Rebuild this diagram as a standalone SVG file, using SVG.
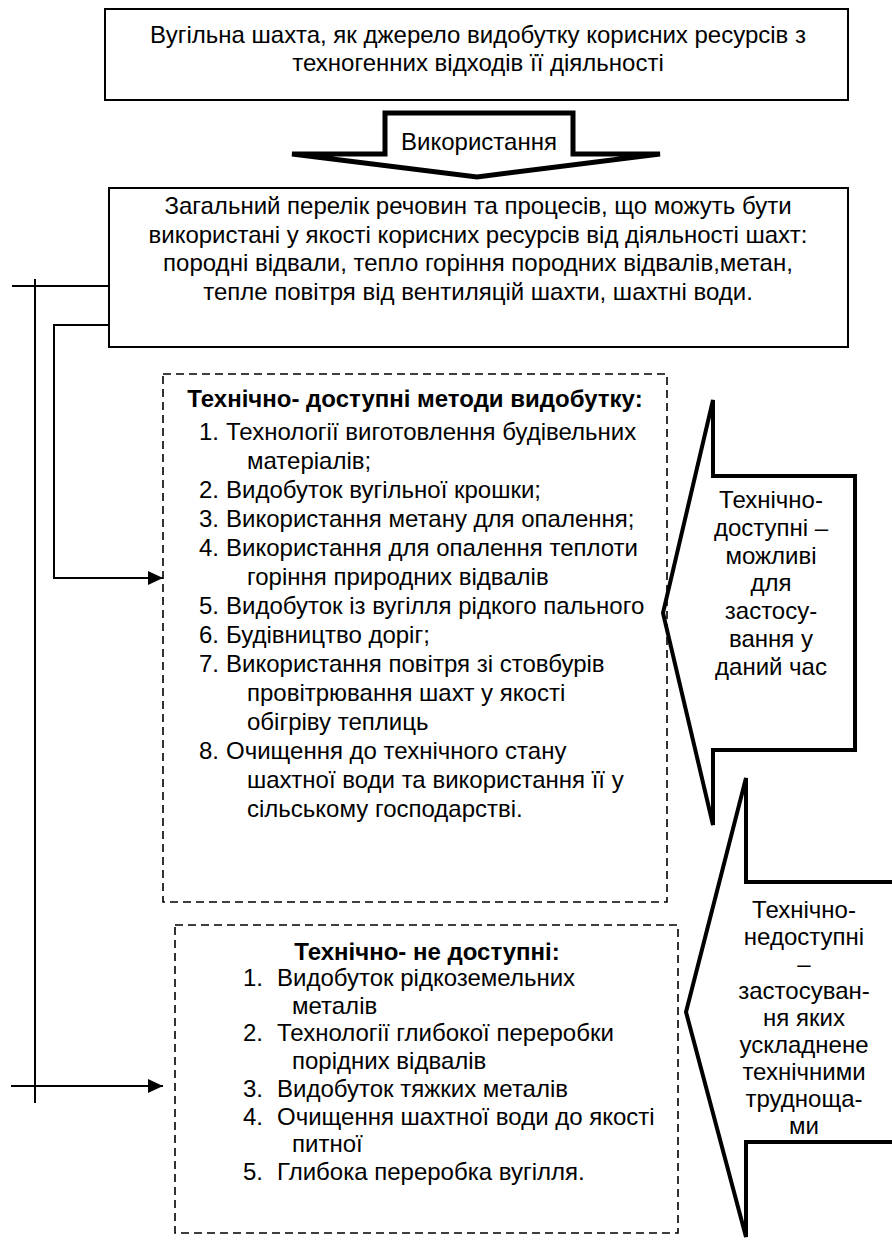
<svg xmlns="http://www.w3.org/2000/svg" width="892" height="1242" viewBox="0 0 892 1242">
<defs>
<style>
text{font-family:"Liberation Sans",Arial,sans-serif;font-size:24px;fill:#000}
.c{text-anchor:middle}
.b{font-weight:bold}
.box{fill:#fff;stroke:#000;stroke-width:2}
.dash{fill:none;stroke:#000;stroke-width:1.6;stroke-dasharray:8 5}
.thick{fill:none;stroke:#000;stroke-width:5;stroke-linejoin:miter}
.call{fill:none;stroke:#000;stroke-width:4;stroke-linejoin:miter}
.ln{fill:none;stroke:#000;stroke-width:2}
</style>
<marker id="ah" markerWidth="16" markerHeight="14" refX="15" refY="7" orient="auto" markerUnits="userSpaceOnUse">
<path d="M0,0 L15,7 L0,14 Z" fill="#000"/>
</marker>
</defs>

<g id="node-source">
<rect class="box" x="105" y="9" width="743" height="91"/>
<text class="c" x="478" y="43">Вугільна шахта, як джерело видобутку корисних ресурсів з</text>
<text class="c" x="478" y="71">техногенних відходів її діяльності</text>
</g>

<g id="node-use-arrow">
<path class="thick" d="M385,113 L573,113 L573,154 L660,154 L477,177 L292,154 L385,154 Z"/>
<text class="c" x="479" y="150">Використання</text>
</g>

<g id="node-list">
<rect class="box" x="109" y="188" width="739" height="159"/>
<text class="c" x="478" y="214">Загальний перелік речовин та процесів, що можуть бути</text>
<text class="c" x="478" y="242.5">використані у якості корисних ресурсів від діяльності шахт:</text>
<text class="c" x="478" y="271">породні відвали, тепло горіння породних відвалів,метан,</text>
<text class="c" x="478" y="299.5">тепле повітря від вентиляцій шахти, шахтні води.</text>
</g>

<g id="connectors">
<line class="ln" x1="12" y1="286" x2="109" y2="286"/>
<line class="ln" x1="35" y1="279" x2="35" y2="1103"/>
<polyline class="ln" points="109,325 54,325 54,578 163,578" marker-end="url(#ah)"/>
<line class="ln" x1="11" y1="1086" x2="163" y2="1086" marker-end="url(#ah)"/>
</g>

<g id="node-available">
<rect class="dash" x="163" y="374" width="504" height="528"/>
<text class="c b" x="415" y="407">Технічно- доступні методи видобутку:</text>
<text x="199" y="440">1.</text><text x="226" y="440">Технології виготовлення будівельних</text>
<text x="247" y="469">матеріалів;</text>
<text x="199" y="498">2.</text><text x="226" y="498">Видобуток вугільної крошки;</text>
<text x="199" y="527">3.</text><text x="226" y="527">Використання метану для опалення;</text>
<text x="199" y="556">4.</text><text x="226" y="556">Використання для опалення теплоти</text>
<text x="247" y="585">горіння природних відвалів</text>
<text x="199" y="614">5.</text><text x="226" y="614">Видобуток із вугілля рідкого пального</text>
<text x="199" y="643">6.</text><text x="226" y="643">Будівництво доріг;</text>
<text x="199" y="672">7.</text><text x="226" y="672">Використання повітря зі стовбурів</text>
<text x="247" y="701">провітрювання шахт у якості</text>
<text x="247" y="730">обігріву теплиць</text>
<text x="199" y="759">8.</text><text x="226" y="759">Очищення до технічного стану</text>
<text x="247" y="788">шахтної води та використання її у</text>
<text x="247" y="817">сільському господарстві.</text>
</g>

<g id="node-unavailable">
<rect class="dash" x="175" y="925" width="503" height="308"/>
<text class="c b" x="427" y="960">Технічно- не доступні:</text>
<text x="243" y="986">1.</text><text x="277" y="986">Видобуток рідкоземельних</text>
<text x="292" y="1013.7">металів</text>
<text x="243" y="1041.4">2.</text><text x="277" y="1041.4">Технології глибокої переробки</text>
<text x="292" y="1069.1">порідних відвалів</text>
<text x="243" y="1096.8">3.</text><text x="277" y="1096.8">Видобуток тяжких металів</text>
<text x="243" y="1124.5">4.</text><text x="277" y="1124.5">Очищення шахтної води до якості</text>
<text x="292" y="1152.2">питної</text>
<text x="243" y="1179.9">5.</text><text x="277" y="1179.9">Глибока переробка вугілля.</text>
</g>

<g id="node-callout-available">
<path class="call" d="M713,400 L713,476 L855,476 L855,750 L713,750 L713,825 L663,613 Z"/>
<text class="c" x="771" y="508">Технічно-</text>
<text class="c" x="771" y="536">доступні –</text>
<text class="c" x="771" y="564">можливі</text>
<text class="c" x="771" y="591">для</text>
<text class="c" x="771" y="619">застосу-</text>
<text class="c" x="771" y="647">вання у</text>
<text class="c" x="771" y="675">даний час</text>
</g>

<g id="node-callout-unavailable">
<path class="call" d="M746,778 L746,882 L900,882 L900,1142 L746,1142 L746,1237 L686,1012 Z"/>
<text class="c" x="804" y="918">Технічно-</text>
<text class="c" x="804" y="945">недоступні</text>
<text class="c" x="804" y="972">–</text>
<text class="c" x="804" y="999">застосуван-</text>
<text class="c" x="804" y="1026">ня яких</text>
<text class="c" x="804" y="1053">ускладнене</text>
<text class="c" x="804" y="1080">технічними</text>
<text class="c" x="804" y="1107">трудноща-</text>
<text class="c" x="804" y="1134">ми</text>
</g>
</svg>
